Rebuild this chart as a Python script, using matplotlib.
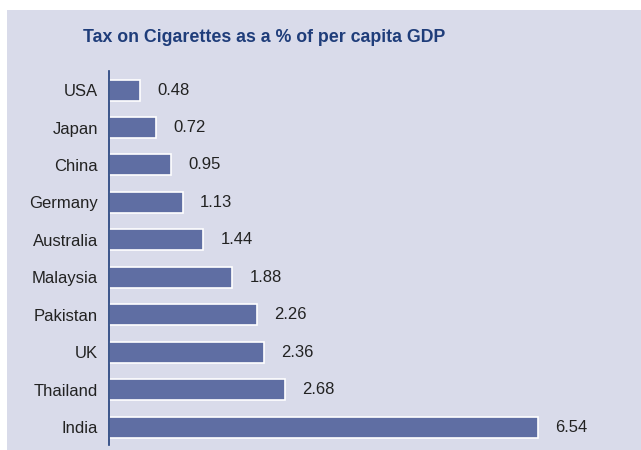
import matplotlib.pyplot as plt
from matplotlib.patches import Rectangle

countries = ['USA', 'Japan', 'China', 'Germany', 'Australia', 'Malaysia',
             'Pakistan', 'UK', 'Thailand', 'India']
tax_pct = [0.48, 0.72, 0.95, 1.13, 1.44, 1.88, 2.26, 2.36, 2.68, 6.54]

BG = '#d9dbea'
BAR = '#5f6ea3'
NAVY = '#1f3d7a'

plt.rcParams['font.family'] = ['Liberation Sans', 'DejaVu Sans']

fig = plt.figure(figsize=(6.41, 4.5), dpi=100)
fig.patch.set_facecolor('white')
# shaded panel behind the chart
fig.patches.append(Rectangle((7 / 641, 0), 1, 1 - 10 / 450, transform=fig.transFigure,
                             facecolor=BG, edgecolor='none', zorder=-5))

ax = fig.add_axes([109 / 641, 5 / 450, (630 - 109) / 641, 374 / 450])
ax.set_facecolor('none')
ax.set_zorder(2)

y = list(range(len(countries)))
ax.barh(y, tax_pct, height=0.56, color=BAR, edgecolor='white', linewidth=1.2)
for yi, v in zip(y, tax_pct):
    ax.text(v + 0.26, yi, f'{v:.2f}', va='center', ha='left', fontsize=12, color='#222222')

ax.set_yticks(y)
ax.set_yticklabels(countries, fontsize=12, color='#222222')
ax.set_ylim(9.48, -0.51)
ax.set_xlim(0, 521 / 65.6)
ax.tick_params(axis='y', length=0, pad=8)
ax.set_xticks([])
for s in ['top', 'right', 'bottom']:
    ax.spines[s].set_visible(False)
ax.spines['left'].set_color(NAVY)
ax.spines['left'].set_linewidth(1.2)

fig.text(264 / 641, 1 - 37 / 450, 'Tax on Cigarettes as a % of per capita GDP',
         ha='center', va='center', fontsize=12.8, fontweight='bold', color=NAVY)

fig.savefig('out.png', dpi=100, facecolor=fig.get_facecolor())
